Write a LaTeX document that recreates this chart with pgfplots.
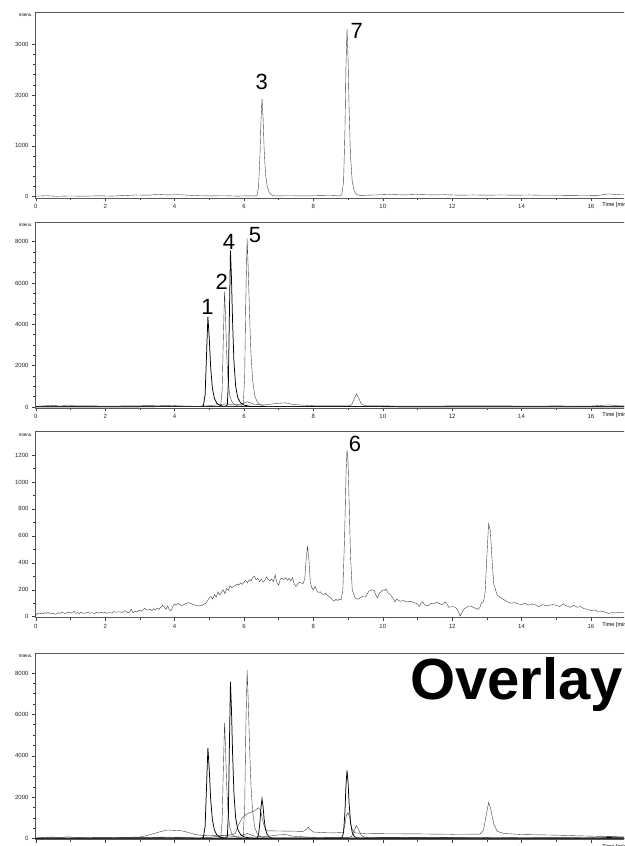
\documentclass[border=0pt]{standalone}
\usepackage{fontspec}
\setmainfont{Liberation Sans}
\usepackage{pgfplots}
\usepackage{pgfplotstable}
\pgfplotsset{compat=1.18}

% trace with peaks 3 and 7
\pgfplotstableread{
t i
0 10
0.3 20
0.6 8
1 15
1.4 10
1.8 18
2.2 12
2.6 25
2.9 35
3.2 30
3.5 45
3.8 35
4.1 40
4.4 30
4.7 20
5 15
5.4 20
5.8 12
6.2 18
6.3 12
6.38 30
6.42 200
6.46 800
6.49 1500
6.52 1933
6.55 1550
6.58 950
6.62 450
6.67 200
6.73 80
6.8 30
6.9 15
7.3 20
7.7 15
8.1 20
8.5 25
8.75 15
8.82 40
8.87 300
8.91 1300
8.94 2600
8.97 3295
9.0 2700
9.03 1700
9.07 800
9.12 300
9.18 100
9.25 40
9.35 25
9.8 35
10.2 45
10.6 35
11 45
11.4 35
11.8 40
12.2 30
12.6 35
13 30
13.4 35
13.8 30
14.2 35
14.6 28
15 30
15.4 25
15.8 30
16.2 25
16.5 55
16.8 40
17.5 30
}\traceA

% baseline trace of the second panel
\pgfplotstableread{
t i
0 30
0.3 60
0.5 80
0.7 40
0.9 90
1.2 50
1.5 60
2 40
2.5 50
3 60
3.5 70
3.8 80
4.2 50
4.5 40
4.7 20
5.0 60
5.3 120
5.5 150
5.7 100
5.9 130
6.1 250
6.3 120
6.6 100
7.0 180
7.2 200
7.4 120
8 60
8.5 50
9.0 50
9.1 100
9.18 400
9.24 630
9.3 450
9.38 150
9.5 60
10 50
11 45
12 50
13 60
14 45
15 50
16 45
16.5 100
16.8 60
17.5 40
}\traceB

\pgfplotstableread{
t i
0 10
4.75 20
4.83 60
4.88 600
4.92 2500
4.96 4371
5.00 3300
5.04 1900
5.09 900
5.15 400
5.22 180
5.30 80
5.40 40
5.6 20
17.5 10
}\peakA

\pgfplotstableread{
t i
0 10
5.25 20
5.33 80
5.37 800
5.40 3000
5.44 5581
5.47 4300
5.50 2600
5.54 1300
5.59 550
5.65 250
5.72 120
5.80 60
5.95 30
17.5 10
}\peakB

\pgfplotstableread{
t i
0 10
5.45 20
5.52 100
5.55 1200
5.58 4500
5.61 7565
5.64 6200
5.67 4200
5.71 2200
5.76 1000
5.82 450
5.90 200
6.00 90
6.15 40
6.3 20
17.5 10
}\peakC

\pgfplotstableread{
t i
0 10
5.90 20
5.98 150
6.02 1500
6.05 5000
6.09 8150
6.12 6800
6.16 4500
6.20 2600
6.25 1300
6.31 550
6.38 250
6.46 110
6.55 50
6.7 25
17.5 10
}\peakD

% trace with peak 6
\pgfplotstableread{
t i
0.00 10
0.05 25
0.1 20
0.15 28
0.2 22
0.25 30
0.3 25
0.35 32
0.4 24
0.45 20
0.5 26
0.55 18
0.6 22
0.65 30
0.7 25
0.75 35
0.8 28
0.85 24
0.9 30
0.95 35
1.0 26
1.05 32
1.1 40
1.15 25
1.2 30
1.25 22
1.3 33
1.35 28
1.4 25
1.5 32
1.55 26
1.6 30
1.7 24
1.75 34
1.8 28
1.9 32
1.95 26
2.0 35
2.05 25
2.1 30
2.2 28
2.25 38
2.3 34
2.4 36
2.5 32
2.55 45
2.6 40
2.65 28
2.7 35
2.75 55
2.8 30
2.85 40
2.9 35
3.0 48
3.05 40
3.1 55
3.15 62
3.2 48
3.3 55
3.35 45
3.4 60
3.45 50
3.5 65
3.55 55
3.6 70
3.65 85
3.7 75
3.75 55
3.8 80
3.85 50
3.9 45
3.95 75
4.0 95
4.05 85
4.1 100
4.15 90
4.2 80
4.3 95
4.4 105
4.45 100
4.5 95
4.6 85
4.7 80
4.8 85
4.9 100
5.0 140
5.05 150
5.1 130
5.15 165
5.2 145
5.25 185
5.3 160
5.35 180
5.4 200
5.45 170
5.5 210
5.55 195
5.6 230
5.65 215
5.7 225
5.8 240
5.85 235
5.9 250
5.95 240
6.0 255
6.05 270
6.1 250
6.15 275
6.2 265
6.25 290
6.3 300
6.35 275
6.4 285
6.45 260
6.5 280
6.55 255
6.6 270
6.65 295
6.7 275
6.75 265
6.8 280
6.85 260
6.9 310
6.95 250
7.0 235
7.05 280
7.1 285
7.15 275
7.2 290
7.25 270
7.3 285
7.35 265
7.4 290
7.45 240
7.5 225
7.55 245
7.6 255
7.65 250
7.7 245
7.75 280
7.79 420
7.83 520
7.87 430
7.91 260
7.95 215
8.0 200
8.05 225
8.1 190
8.15 180
8.2 185
8.25 170
8.3 165
8.35 175
8.4 160
8.45 150
8.5 140
8.55 125
8.6 115
8.65 130
8.7 120
8.75 130
8.8 125
8.85 200
8.9 600
8.94 1050
8.97 1237
9.00 1150
9.03 850
9.07 450
9.12 200
9.2 140
9.3 130
9.4 150
9.5 145
9.6 190
9.7 200
9.75 195
9.8 160
9.85 140
9.9 175
9.95 185
10.0 200
10.05 195
10.1 205
10.15 175
10.2 170
10.3 135
10.35 110
10.4 130
10.5 115
10.6 120
10.7 110
10.8 115
10.9 105
11.0 95
11.05 75
11.1 100
11.15 110
11.2 90
11.3 80
11.4 100
11.5 95
11.55 110
11.6 100
11.7 90
11.75 95
11.8 110
11.85 95
11.9 70
12.0 75
12.1 70
12.15 50
12.2 25
12.23 5
12.28 30
12.35 60
12.45 75
12.55 80
12.6 70
12.7 60
12.75 55
12.8 70
12.85 105
12.9 110
12.95 180
13.0 450
13.05 690
13.1 640
13.15 420
13.2 240
13.3 160
13.4 140
13.5 125
13.6 110
13.7 100
13.8 105
13.9 95
14.0 90
14.1 100
14.2 85
14.3 95
14.4 88
14.5 75
14.6 90
14.7 80
14.8 85
14.9 90
15.0 85
15.1 75
15.2 95
15.3 80
15.4 70
15.5 85
15.6 70
15.7 75
15.8 60
15.9 55
16.0 45
16.1 50
16.2 40
16.3 42
16.4 35
16.5 25
16.6 30
16.7 28
16.8 32
16.9 30
17.0 28
17.5 25
}\traceC

% extra trace seen only in the overlay
\pgfplotstableread{
t i
0 40
0.5 50
1 45
1.5 55
2 50
2.5 60
3 80
3.2 150
3.4 250
3.6 340
3.8 420
4.0 400
4.2 380
4.4 300
4.6 200
4.8 150
5.0 140
5.2 150
5.4 160
5.6 180
5.75 250
5.85 700
5.95 1000
6.05 1150
6.15 1250
6.25 1300
6.35 1400
6.42 1500
6.48 1350
6.55 800
6.62 450
6.7 380
7.0 370
7.4 360
7.7 350
7.8 450
7.85 560
7.9 450
8.0 320
8.3 290
8.6 280
8.85 300
8.9 600
8.95 1100
9.0 1260
9.05 1000
9.1 500
9.2 280
9.5 250
10 240
11 230
12 210
12.8 220
12.9 400
13.0 1300
13.05 1740
13.1 1500
13.2 700
13.3 350
13.5 250
14 200
15 170
16 120
16.5 100
17.5 80
}\traceD

\pgfplotsset{
  chrom/.style={
    scale only axis, width=608pt, height=186pt,
    anchor=south west,
    xmin=-0.023, xmax=17.5,
    xtick={0,2,...,16}, minor xtick={1,3,...,17},
    tick pos=left, tick align=outside,
    major tick length=3pt, minor tick length=2pt,
    ticklabel style={font=\fontsize{6}{6}\selectfont, text=black!85},
    /pgf/number format/assume math mode=true,
    /pgf/number format/1000 sep={},
    axis line style={black!65, line width=0.9pt},
    tick style={black!75, line width=0.5pt},
    cycle list={{black!75, line width=0.75pt}},
    no markers,
    clip=false,
  },
}
\tikzset{num/.style={font=\fontsize{22}{22}\selectfont}}
\newcommand{\intens}{\node[anchor=north east, font=\fontsize{4.5}{5}\selectfont, inner sep=0pt] at (rel axis cs:0,1) [xshift=-2.5pt, yshift=-1pt] {Intens.};}
\newcommand{\timelabel}{\node[anchor=west, font=\fontsize{5.5}{6}\selectfont, inner sep=0pt] at (rel axis cs:0.933,0) [yshift=-7.5pt] {Time [min]};}

\begin{document}
\begin{tikzpicture}
\path[use as bounding box] (0,0) rectangle (624pt,846pt);
\clip (0,0) rectangle (624pt,846pt);

\begin{axis}[chrom, at={(35pt,648pt)}, ymin=-25, ymax=3630,
  ytick={0,1000,2000,3000}, minor y tick num=4]
  \addplot table {\traceA};
  \node[num] at (axis cs:6.51,2259) {3};
  \node[num] at (axis cs:9.25,3261) {7};
  \intens \timelabel
\end{axis}

\begin{axis}[chrom, at={(35pt,438pt)}, ymin=-50, ymax=8954,
  ytick={0,2000,...,8000}, minor y tick num=3]
  \addplot table {\traceB};
  \addplot table {\peakA};
  \addplot table {\peakB};
  \addplot table {\peakC};
  \addplot table {\peakD};
  \node[num] at (axis cs:4.95,4855) {1};
  \node[num] at (axis cs:5.36,6065) {2};
  \node[num] at (axis cs:5.57,8001) {4};
  \node[num] at (axis cs:6.32,8325) {5};
  \intens \timelabel
\end{axis}

\begin{axis}[chrom, at={(35pt,228.2pt)}, ymin=-8, ymax=1372,
  ytick={0,200,...,1200}, minor y tick num=1]
  \addplot table {\traceC};
  \node[num] at (axis cs:9.20,1282) {6};
  \intens \timelabel
\end{axis}

\begin{axis}[chrom, at={(35pt,6.3pt)}, ymin=-50, ymax=8930,
  ytick={0,2000,...,8000}, minor y tick num=3]
  \addplot table {\traceD};
  \addplot table {\traceA};
  \addplot table {\traceB};
  \addplot table {\peakA};
  \addplot table {\peakB};
  \addplot table {\peakC};
  \addplot table {\peakD};
  \node[anchor=west, font=\fontsize{58}{58}\selectfont\bfseries, inner sep=0pt] at (axis cs:10.78,7440) {Overlay};
  \intens \timelabel
\end{axis}
\end{tikzpicture}
\end{document}
